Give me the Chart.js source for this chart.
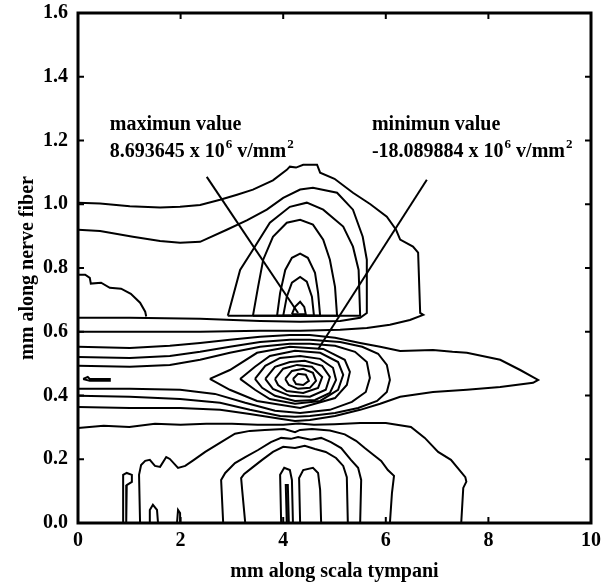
<!DOCTYPE html>
<html>
<head>
<meta charset="utf-8">
<script src="https://cdn.jsdelivr.net/npm/chart.js@4/dist/chart.umd.min.js"></script>
<style>
  body { margin: 0; background: #fff; }
</style>
</head>
<body>
<canvas id="chart" width="613" height="582"></canvas>
<script>
// axis ticks
const xTicks = [0, 2, 4, 6, 8, 10];
const yTicks = [0, 0.2, 0.4, 0.6, 0.8, 1.0, 1.2, 1.4, 1.6];

// contour lines, [mm along scala tympani, mm along nerve fiber]
const domeOuter = [[0,1.005],[0.43,1.002],[1.01,0.994],[1.6,0.99],[1.99,0.992],[2.38,0.998],[2.77,1.014],[3.1,1.03],[3.41,1.046],[3.8,1.075],[4.07,1.108],[4.13,1.118],[4.25,1.115],[4.39,1.124],[4.66,1.124],[4.72,1.099],[5.0,1.08],[5.36,1.036],[5.7,1.0],[6.02,0.961],[6.2,0.92],[6.28,0.889],[6.53,0.867],[6.63,0.848],[6.67,0.659],[6.73,0.653],[6.47,0.637],[6.08,0.622],[5.63,0.612],[5.11,0.606],[4.33,0.603],[3.55,0.603],[2.38,0.6],[1.01,0.6],[0,0.6]];
const domeSecond = [[0,0.92],[0.43,0.916],[1.07,0.898],[1.6,0.885],[1.99,0.879],[2.38,0.882],[2.9,0.92],[3.3,0.95],[3.68,0.983],[4.0,1.02],[4.33,1.046],[4.58,1.052],[5.05,1.036],[5.36,0.983],[5.55,0.898],[5.63,0.826],[5.63,0.659],[5.5,0.644],[5.11,0.634],[4.33,0.631],[3.55,0.634],[2.38,0.641],[1.01,0.644],[0,0.644]];
const domeC = [[2.92,0.65],[3.16,0.794],[3.41,0.857],[3.74,0.942],[4.13,0.992],[4.46,1.005],[4.78,0.983],[5.17,0.93],[5.36,0.867],[5.47,0.794],[5.5,0.65],[2.92,0.65]];
const domeD = [[3.41,0.65],[3.51,0.741],[3.61,0.826],[3.8,0.898],[4.07,0.942],[4.33,0.951],[4.58,0.936],[4.78,0.889],[4.91,0.826],[5.01,0.741],[5.05,0.65],[3.41,0.65]];
const domeE = [[3.88,0.65],[3.94,0.722],[4.04,0.794],[4.17,0.832],[4.33,0.845],[4.48,0.832],[4.62,0.785],[4.68,0.722],[4.72,0.65],[3.88,0.65]];
const domeF = [[4.0,0.65],[4.07,0.71],[4.17,0.754],[4.33,0.772],[4.46,0.757],[4.56,0.71],[4.6,0.65],[4.0,0.65]];
const domeG = [[4.17,0.655],[4.23,0.678],[4.33,0.694],[4.41,0.678],[4.44,0.655],[4.17,0.655]];
const leftBlob = [[0,0.779],[0.14,0.779],[0.23,0.769],[0.25,0.751],[0.45,0.754],[0.62,0.738],[0.84,0.735],[1.03,0.719],[1.21,0.691],[1.31,0.663],[1.33,0.648]];
const tongue = [[0,0.553],[1.01,0.549],[1.79,0.556],[2.38,0.565],[2.96,0.575],[3.55,0.584],[4.13,0.59],[4.52,0.59],[5.01,0.581],[5.5,0.565],[5.89,0.553],[6.28,0.54],[6.92,0.543],[7.3,0.537],[7.58,0.534],[8.23,0.512],[8.62,0.48],[8.87,0.458],[8.97,0.449],[8.87,0.44],[8.23,0.427],[7.58,0.418],[6.92,0.411],[6.28,0.396],[5.89,0.374],[5.5,0.355],[5.01,0.336],[4.52,0.323],[4.23,0.32],[3.94,0.327],[3.35,0.342],[2.77,0.355],[1.99,0.361],[1.01,0.361],[0,0.364]];
const wellOuter2 = [[0,0.521],[1.01,0.518],[1.79,0.524],[2.38,0.537],[2.96,0.553],[3.55,0.568],[4.13,0.575],[4.52,0.575],[5.11,0.568],[5.54,0.553],[5.85,0.531],[6.02,0.496],[6.08,0.449],[6.02,0.411],[5.83,0.383],[5.46,0.361],[5.01,0.345],[4.52,0.336],[4.23,0.333],[3.94,0.336],[3.35,0.355],[2.77,0.377],[1.99,0.389],[1.01,0.396],[0,0.399]];
const wellOuter3 = [[0,0.493],[1.01,0.49],[1.79,0.496],[2.38,0.512],[2.96,0.534],[3.55,0.553],[4.13,0.562],[4.52,0.562],[5.01,0.556],[5.4,0.537],[5.63,0.505],[5.69,0.455],[5.61,0.411],[5.34,0.38],[4.91,0.355],[4.33,0.345],[3.84,0.352],[3.26,0.377],[2.67,0.405],[1.99,0.418],[1.01,0.421],[0,0.421]];
const wellArrow = [[2.57,0.452],[2.96,0.48],[3.49,0.534],[4.13,0.553],[4.78,0.546],[5.2,0.512],[5.3,0.474],[5.24,0.433],[5.01,0.392],[4.33,0.361],[3.49,0.383],[2.96,0.418],[2.57,0.452]];
const wellR6 = [[3.16,0.452],[3.45,0.49],[3.74,0.524],[4.23,0.54],[4.72,0.534],[5.07,0.505],[5.17,0.465],[5.07,0.418],[4.72,0.383],[4.23,0.374],[3.74,0.389],[3.45,0.418],[3.16,0.452]];
const wellR5 = [[3.45,0.452],[3.65,0.493],[3.94,0.518],[4.33,0.524],[4.72,0.515],[4.97,0.487],[5.03,0.449],[4.91,0.408],[4.62,0.386],[4.23,0.383],[3.84,0.399],[3.59,0.424],[3.45,0.452]];
const wellR4 = [[3.65,0.452],[3.84,0.49],[4.13,0.505],[4.42,0.509],[4.76,0.493],[4.91,0.458],[4.83,0.418],[4.52,0.396],[4.13,0.399],[3.8,0.421],[3.65,0.452]];
const wellR3 = [[3.84,0.452],[4.0,0.484],[4.27,0.496],[4.56,0.49],[4.76,0.458],[4.68,0.424],[4.39,0.408],[4.07,0.414],[3.9,0.433],[3.84,0.452]];
const wellR2 = [[4.04,0.452],[4.17,0.477],[4.39,0.484],[4.58,0.471],[4.64,0.446],[4.52,0.424],[4.29,0.421],[4.11,0.433],[4.04,0.452]];
const wellR1 = [[4.19,0.452],[4.29,0.468],[4.44,0.465],[4.5,0.446],[4.39,0.433],[4.25,0.436],[4.19,0.452]];
const edgeStub = [[0.1,0.452],[0.19,0.458],[0.23,0.452],[0.62,0.452],[0.62,0.446],[0.23,0.446],[0.1,0.452]];
const lowerOuter = [[0,0.298],[0.5,0.305],[1.0,0.301],[1.5,0.311],[2.0,0.308],[2.5,0.311],[3.0,0.311],[3.5,0.308],[4.0,0.308],[4.3,0.312],[4.6,0.308],[5.0,0.31],[5.5,0.314],[6.0,0.314],[6.49,0.301],[6.76,0.267],[7.02,0.223],[7.27,0.198],[7.55,0.144],[7.57,0.13],[7.51,0.11],[7.47,0]];
const lowerP2 = [[1.21,0],[1.19,0.151],[1.23,0.182],[1.31,0.195],[1.4,0.198],[1.5,0.179],[1.6,0.176],[1.72,0.207],[1.79,0.201],[1.95,0.173],[2.09,0.179],[2.26,0.198],[2.48,0.223],[2.79,0.254],[3.06,0.28],[3.35,0.289],[3.64,0.292],[4.02,0.295],[4.23,0.285],[4.33,0.292],[4.56,0.295],[4.91,0.29],[5.2,0.278],[5.42,0.258],[5.59,0.235],[5.75,0.215],[5.91,0.195],[6.04,0.166],[6.16,0.148],[6.12,0.094],[6.08,0]];
const lowerP3 = [[2.83,0],[2.79,0.135],[2.87,0.157],[3.06,0.188],[3.26,0.207],[3.51,0.229],[3.76,0.254],[3.96,0.267],[4.15,0.264],[4.29,0.27],[4.54,0.261],[4.74,0.267],[4.93,0.254],[5.13,0.235],[5.32,0.198],[5.46,0.173],[5.52,0.135],[5.5,0]];
const lowerP4 = [[3.26,0],[3.2,0.104],[3.18,0.141],[3.24,0.154],[3.39,0.173],[3.59,0.198],[3.8,0.223],[4.0,0.239],[4.23,0.235],[4.42,0.242],[4.62,0.232],[4.83,0.223],[5.03,0.204],[5.17,0.179],[5.24,0.144],[5.26,0]];
const spikeA = [[3.96,0],[3.94,0.151],[4.02,0.173],[4.13,0.166],[4.17,0.135],[4.19,0]];
const spikeB = [[4.07,0],[4.05,0.119],[4.09,0.119],[4.11,0]];
const spikeC = [[4.33,0],[4.31,0.141],[4.39,0.166],[4.58,0.173],[4.68,0.157],[4.72,0.104],[4.74,0]];
const smallP = [[0.88,0],[0.88,0.151],[0.95,0.157],[1.05,0.151],[1.05,0.129],[0.95,0.119],[0.94,0]];
const smallArch = [[1.4,0],[1.4,0.041],[1.46,0.057],[1.54,0.041],[1.56,0]];
const smallSpike = [[1.93,0],[1.95,0.041],[1.99,0.031],[1.99,0]];

const contours = [domeOuter, domeSecond, domeC, domeD, domeE, domeF, domeG, leftBlob,
  tongue, wellOuter2, wellOuter3, wellArrow, wellR6, wellR5, wellR4, wellR3, wellR2, wellR1,
  edgeStub, lowerOuter, lowerP2, lowerP3, lowerP4, spikeA, spikeB, spikeC, smallP, smallArch, smallSpike];

// pointer lines to the extreme values
const maxPointer = [[2.51,1.086],[4.29,0.659]];
const minPointer = [[6.8,1.077],[4.68,0.545]];

const maxText = ['maximun value', '8.693645 x 10', '6', ' v/mm', '2'];
const minText = ['minimun value', '-18.089884 x 10', '6', ' v/mm', '2'];

const serif = '"Liberation Serif", "Times New Roman", serif';

const toPoints = arr => arr.map(([x, y]) => ({ x, y }));

const datasets = contours.concat([maxPointer, minPointer]).map(c => ({
  data: toPoints(c),
  showLine: true,
  borderColor: '#000',
  borderWidth: 2,
  pointRadius: 0,
  fill: false,
  tension: 0
}));

function drawNote(ctx, parts, x, y) {
  ctx.font = 'bold 20px ' + serif;
  ctx.fillText(parts[0], x, y);
  let px = x;
  const base = y + 27;
  parts.slice(1).forEach((p, i) => {
    const sup = i % 2 === 1;
    ctx.font = sup ? 'bold 13px ' + serif : 'bold 20px ' + serif;
    ctx.fillText(p, px + (sup ? 1 : 0), sup ? base - 9 : base);
    px += ctx.measureText(p).width + (sup ? 1 : 0);
  });
}

const framePlugin = {
  id: 'frame',
  afterDatasetsDraw(chart) {
    const { ctx, chartArea: a, scales: { x, y } } = chart;
    ctx.save();
    ctx.strokeStyle = '#000';
    ctx.lineWidth = 2;
    ctx.beginPath();
    xTicks.forEach(v => {
      const px = x.getPixelForValue(v);
      ctx.moveTo(px, a.bottom); ctx.lineTo(px, a.bottom - 6);
      ctx.moveTo(px, a.top); ctx.lineTo(px, a.top + 6);
    });
    yTicks.forEach(v => {
      const py = y.getPixelForValue(v);
      ctx.moveTo(a.left, py); ctx.lineTo(a.left + 6, py);
      ctx.moveTo(a.right, py); ctx.lineTo(a.right - 6, py);
    });
    ctx.stroke();
    ctx.lineWidth = 3;
    ctx.strokeRect(a.left, a.top, a.right - a.left, a.bottom - a.top);

    ctx.fillStyle = '#000';
    ctx.textBaseline = 'alphabetic';
    ctx.textAlign = 'left';
    drawNote(ctx, maxText, x.getPixelForValue(0.62), y.getPixelForValue(1.234));
    drawNote(ctx, minText, x.getPixelForValue(5.73), y.getPixelForValue(1.234));
    ctx.restore();
  }
};

new Chart(document.getElementById('chart'), {
  type: 'scatter',
  data: { datasets },
  options: {
    responsive: false,
    animation: false,
    layout: { padding: { top: 13, right: 22, left: 0, bottom: 0 } },
    plugins: { legend: { display: false }, tooltip: { enabled: false } },
    scales: {
      x: {
        type: 'linear', min: 0, max: 10,
        grid: { display: false, drawTicks: false },
        border: { display: false },
        ticks: { stepSize: 2, color: '#000', padding: 6, maxRotation: 0,
          font: { family: serif, size: 20, weight: 'bold' } },
        title: { display: true, text: 'mm along scala tympani', color: '#000',
          font: { family: serif, size: 20, weight: 'bold', lineHeight: 1 }, padding: 0 },
        afterFit(s) { s.height = 59; s.paddingLeft = 0; s.paddingRight = 0; }
      },
      y: {
        type: 'linear', min: 0, max: 1.6,
        grid: { display: false, drawTicks: false },
        border: { display: false },
        ticks: { stepSize: 0.2, color: '#000', padding: 10,
          font: { family: serif, size: 20, weight: 'bold' },
          callback: v => v.toFixed(1) },
        title: { display: true, text: 'mm along nerve fiber', color: '#000',
          font: { family: serif, size: 20, weight: 'bold', lineHeight: 1 }, padding: { top: 18, bottom: 0 } },
        afterFit(s) { s.width = 78; s.paddingTop = 0; s.paddingBottom = 0; }
      }
    }
  },
  plugins: [framePlugin]
});
</script>
</body>
</html>
